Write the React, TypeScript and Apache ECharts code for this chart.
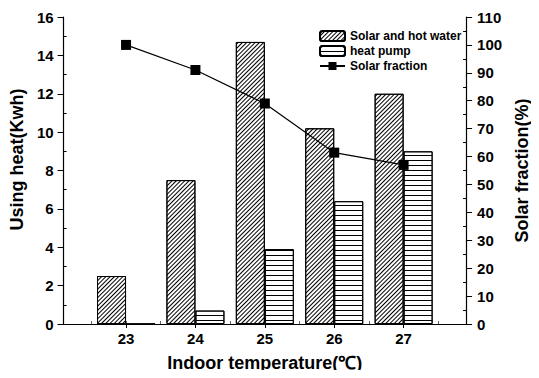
import React, { useEffect, useRef } from "react";
import * as echarts from "echarts";

const temperatures = [23, 24, 25, 26, 27];
const solarHotWater = [2.5, 7.5, 14.7, 10.2, 12.0];
const heatPump = [0, 0.7, 3.9, 6.4, 9.0];
const solarFraction = [100, 91, 79, 61.4, 57];
const leftTicks = [0, 2, 4, 6, 8, 10, 12, 14, 16];
const rightTicks = [0, 10, 20, 30, 40, 50, 60, 70, 80, 90, 100, 110];

const FONT = "Liberation Sans, Arial, sans-serif";

export default function App() {
  const ref = useRef<HTMLDivElement>(null);
  useEffect(() => {
    if (!ref.current) return;
    const chart = echarts.init(ref.current, null, { renderer: "svg" });
    const oddLeft = leftTicks.slice(0, -1).map((v) => v + 1);
    const midRight = rightTicks.slice(0, -1).map((v) => v + 5);
    const halfX: number[] = [];
    for (let t = 22.5; t < 28; t += 0.5) halfX.push(t);
    const axisLineStyle = { color: "#000", width: 1.2 };
    const labelStyle = { color: "#000", fontFamily: FONT, fontWeight: "bold" as const, fontSize: 15 };
    const nameStyle = { color: "#000", fontFamily: FONT, fontWeight: "bold" as const, fontSize: 18 };

    chart.setOption({
      animation: false,
      backgroundColor: "#fff",
      grid: { left: 63, right: 56, top: 17, bottom: 54, containLabel: false },
      legend: {
        orient: "vertical",
        left: 314,
        top: 25,
        itemWidth: 25,
        itemHeight: 10,
        itemGap: 3,
        textStyle: { color: "#000", fontFamily: FONT, fontWeight: "bold", fontSize: 12 },
        data: ["Solar and hot water", "heat pump", "Solar fraction"],
      },
      xAxis: [
        {
          type: "value",
          position: "bottom",
          min: 22.1,
          max: 27.9,
          axisLine: { lineStyle: axisLineStyle },
          axisTick: { show: true, inside: true, length: 3, customValues: halfX, lineStyle: { color: "#666" } },
          axisLabel: { ...labelStyle, margin: 7, customValues: temperatures, formatter: (v: number) => String(v) },
          splitLine: { show: false },
          name: "Indoor temperature(℃)",
          nameLocation: "middle",
          nameGap: 30,
          nameTextStyle: nameStyle,
        },
        {
          type: "value",
          position: "top",
          min: 22.1,
          max: 27.9,
          axisLine: { lineStyle: axisLineStyle },
          axisTick: { show: true, inside: true, length: 4, customValues: temperatures },
          axisLabel: { show: false },
          splitLine: { show: false },
        },
      ],
      yAxis: [
        {
          type: "value",
          position: "left",
          min: 0,
          max: 16,
          interval: 2,
          axisLine: { show: true, lineStyle: axisLineStyle },
          axisTick: { show: true, length: 6, lineStyle: { color: "#000" } },
          axisLabel: { ...labelStyle, margin: 10 },
          splitLine: { show: false },
          name: "Using heat(Kwh)",
          nameLocation: "middle",
          nameGap: 34,
          nameTextStyle: { ...nameStyle, padding: [0, 0, 0, 22] },
        },
        {
          type: "value",
          position: "right",
          min: 0,
          max: 110,
          interval: 10,
          axisLine: { show: true, lineStyle: axisLineStyle },
          axisTick: { show: true, length: 6, lineStyle: { color: "#000" } },
          axisLabel: { ...labelStyle, margin: 11 },
          splitLine: { show: false },
          name: "Solar fraction(%)",
          nameLocation: "middle",
          nameGap: 44,
          nameTextStyle: nameStyle,
        },
        {
          type: "value",
          position: "left",
          min: 0,
          max: 16,
          axisLine: { show: false },
          axisTick: { show: true, inside: true, length: 3, customValues: oddLeft, lineStyle: { color: "#000" } },
          axisLabel: { show: false },
          splitLine: { show: false },
        },
        {
          type: "value",
          position: "right",
          min: 0,
          max: 110,
          axisLine: { show: false },
          axisTick: { show: true, inside: true, length: 3, customValues: midRight, lineStyle: { color: "#000" } },
          axisLabel: { show: false },
          splitLine: { show: false },
        },
      ],
      series: [
        {
          name: "Solar and hot water",
          type: "bar",
          xAxisIndex: 0,
          yAxisIndex: 0,
          barWidth: 29,
          barGap: "0%",
          data: temperatures.map((t, i) => [t, solarHotWater[i]]),
          itemStyle: {
            color: "#fff",
            borderColor: "#000",
            borderWidth: 1,
            decal: {
              symbol: "rect",
              color: "#000",
              dashArrayX: [1, 0],
              dashArrayY: [1, 1.6],
              rotation: -Math.PI / 4,
              symbolSize: 1,
            },
          },
          z: 2,
        },
        {
          name: "heat pump",
          type: "bar",
          xAxisIndex: 0,
          yAxisIndex: 0,
          barWidth: 29,
          barGap: "0%",
          data: temperatures.map((t, i) => [t, heatPump[i]]),
          itemStyle: {
            color: "#fff",
            borderColor: "#000",
            borderWidth: 1,
            decal: {
              symbol: "rect",
              color: "#000",
              dashArrayX: [1, 0],
              dashArrayY: [1, 3.3],
              rotation: 0,
              symbolSize: 1,
            },
          },
          z: 2,
        },
        {
          name: "Solar fraction",
          type: "line",
          xAxisIndex: 0,
          yAxisIndex: 1,
          data: temperatures.map((t, i) => [t, solarFraction[i]]),
          symbol: "rect",
          symbolSize: 10,
          itemStyle: { color: "#000" },
          lineStyle: { color: "#000", width: 1.2 },
          z: 5,
        },
      ],
    });
    return () => chart.dispose();
  }, []);
  return (
    <div style={{ width: 539, height: 378, margin: -8, overflow: "hidden" }}>
      <div ref={ref} style={{ width: 539, height: 378 }} />
    </div>
  );
}
